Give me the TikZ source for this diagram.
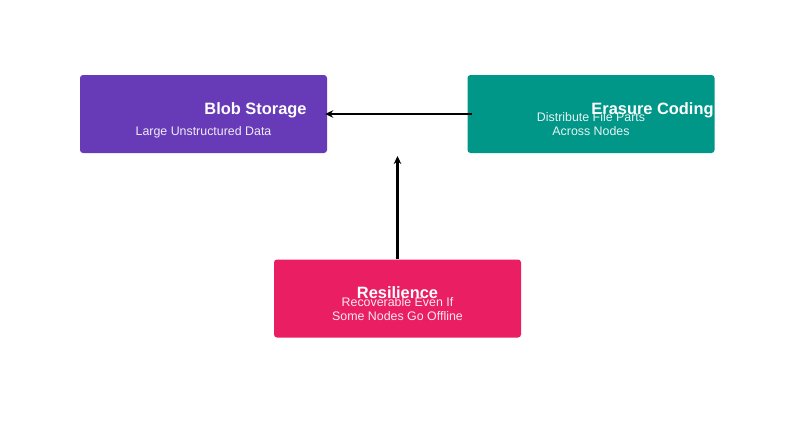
\documentclass[tikz,border=0pt]{standalone}
\usepackage{fontspec}
\setmainfont{Liberation Sans}
\usetikzlibrary{arrows.meta}
\definecolor{cpurple}{HTML}{673AB7}
\definecolor{cteal}{HTML}{009688}
\definecolor{cpink}{HTML}{E91E63}
\tikzset{
  box/.style={rounded corners=3pt, minimum width=247pt, minimum height=78pt, inner sep=0pt, draw=none},
  title/.style={text=white, font=\bfseries\fontsize{16.4}{19}\selectfont, inner sep=0pt, anchor=base},
  sub/.style={text=white, text opacity=0.9, font=\fontsize{12.4}{14}\selectfont, inner sep=0pt, anchor=base},
  arr/.style={line width=2.3pt, -{Stealth[length=8pt,width=7.5pt]}, black}
}
\begin{document}
\begin{tikzpicture}[x=1pt,y=-1pt]
\useasboundingbox (0,0) rectangle (794,442);
\node[box, fill=cpurple] (blob) at (203.5,114) {};
\node[box, fill=cteal] (erasure) at (591,114) {};
\node[box, fill=cpink] (res) at (397.5,298.5) {};
\node[title] (blobt) at (255.5,114) {Blob Storage};
\node[sub] (blobs) at (203.5,135) {Large Unstructured Data};
\node[sub] (erasures1) at (591,121) {Distribute File Parts};
\node[sub] (erasures2) at (591,135) {Across Nodes};
\node[title] (erasuret) at (652.5,114.5) {Erasure Coding};
\node[sub] (ress1) at (397.5,306) {Recoverable Even If};
\node[sub] (ress2) at (397.5,320) {Some Nodes Go Offline};
\node[title] (rest) at (397.5,298) {Resilience};
\coordinate (top) at (397.5,156);
\draw[arr] ([xshift=5pt]erasure.west) -- ([xshift=-2pt]blob.east);
\draw[arr] (res.north) -- (top);
\end{tikzpicture}
\end{document}
